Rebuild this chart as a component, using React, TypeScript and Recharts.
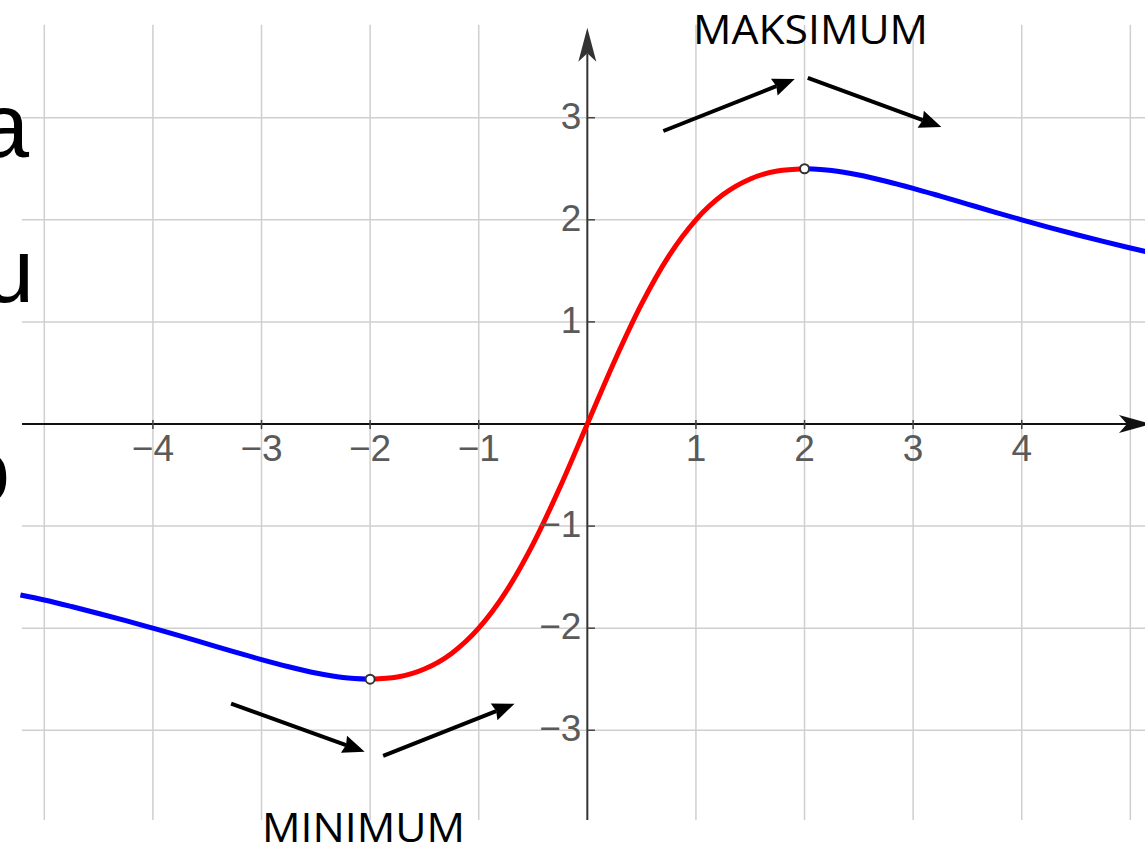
import React from 'react';
import { LineChart, Line, XAxis, YAxis, ReferenceLine, ReferenceDot } from 'recharts';

// curve (x, y)
const leftBlue = [
  { x: -5.22, y: -1.675 }, { x: -5, y: -1.724 }, { x: -4.75, y: -1.788 }, { x: -4.5, y: -1.856 },
  { x: -4.25, y: -1.926 }, { x: -4, y: -2.0 }, { x: -3.75, y: -2.076 }, { x: -3.5, y: -2.154 },
  { x: -3.25, y: -2.232 }, { x: -3, y: -2.308 }, { x: -2.75, y: -2.378 }, { x: -2.5, y: -2.439 },
  { x: -2.25, y: -2.483 }, { x: -2, y: -2.5 },
];
const middleRed = [
  { x: -2, y: -2.5 }, { x: -1.75, y: -2.478 }, { x: -1.5, y: -2.4 }, { x: -1.25, y: -2.247 },
  { x: -1, y: -2.0 }, { x: -0.75, y: -1.644 }, { x: -0.5, y: -1.176 }, { x: -0.25, y: -0.615 },
  { x: 0, y: 0 }, { x: 0.25, y: 0.615 }, { x: 0.5, y: 1.176 }, { x: 0.75, y: 1.644 },
  { x: 1, y: 2.0 }, { x: 1.25, y: 2.247 }, { x: 1.5, y: 2.4 }, { x: 1.75, y: 2.478 }, { x: 2, y: 2.5 },
];
const rightBlue = [
  { x: 2, y: 2.5 }, { x: 2.25, y: 2.483 }, { x: 2.5, y: 2.439 }, { x: 2.75, y: 2.378 },
  { x: 3, y: 2.308 }, { x: 3.25, y: 2.232 }, { x: 3.5, y: 2.154 }, { x: 3.75, y: 2.076 },
  { x: 4, y: 2.0 }, { x: 4.25, y: 1.926 }, { x: 4.5, y: 1.856 }, { x: 4.75, y: 1.788 },
  { x: 5, y: 1.724 }, { x: 5.2, y: 1.675 },
];

const xTicks = [-4, -3, -2, -1, 1, 2, 3, 4];
const yTicks = [3, 2, 1, -1, -2, -3];
const xGrid = [-5, -4, -3, -2, -1, 1, 2, 3, 4, 5];
const yGrid = [-3, -2, -1, 1, 2, 3];

// annotation arrows: [x1, y1, x2 (tip), y2 (tip)]
const arrows = [
  [0.7, 2.87, 1.91, 3.38],
  [2.03, 3.39, 3.26, 2.91],
  [-3.28, -2.74, -2.05, -3.21],
  [-1.88, -3.25, -0.67, -2.74],
];

const X_DOMAIN = [-5.408, 5.135];
const Y_DOMAIN = [-4.114, 4.153];

const num = (v: number) => (v < 0 ? '\u2212' + Math.abs(v) : String(v));

const arrowShape = (len: number, half: number, sw: number, color: string, notch = 0.2) => (p: any) => {
  const { x1, y1, x2, y2 } = p;
  const dx = x2 - x1;
  const dy = y2 - y1;
  const d = Math.sqrt(dx * dx + dy * dy) || 1;
  const ux = dx / d;
  const uy = dy / d;
  const bx = x2 - ux * len;
  const by = y2 - uy * len;
  const nx = bx + ux * len * notch;
  const ny = by + uy * len * notch;
  const pts = [
    [x2, y2],
    [bx - uy * half, by + ux * half],
    [nx, ny],
    [bx + uy * half, by - ux * half],
  ].map((q) => q.join(',')).join(' ');
  return (
    <g>
      <line x1={x1} y1={y1} x2={nx} y2={ny} stroke={color} strokeWidth={sw} />
      <polygon points={pts} fill={color} />
    </g>
  );
};

const tickText = (text: string, dx: number, dy: number, anchor: string) => (p: any) => (
  <text
    x={p.cx + dx}
    y={p.cy + dy}
    textAnchor={anchor}
    fontFamily="'Liberation Sans', Arial, sans-serif"
    fontSize={37}
    fill="#5a5a5a"
  >
    {text}
  </text>
);

// open circles at both ends of the red piece (the extremes)
const endDot = (p: any) => {
  const last = middleRed.length - 1;
  if (p.index !== 0 && p.index !== last) return <g key={'d' + p.index} />;
  return <circle key={'d' + p.index} cx={p.cx} cy={p.cy} r={4.5} fill="#fff" stroke="#333" strokeWidth={2} />;
};

export default function App() {
  return (
    <div style={{ position: 'fixed', left: 0, top: 0, width: 1145, height: 844, background: '#fff', overflow: 'hidden' }}>
      <LineChart width={1145} height={844} margin={{ top: 0, right: 0, bottom: 0, left: 0 }}>
        <XAxis type="number" dataKey="x" domain={X_DOMAIN} allowDataOverflow hide />
        <YAxis type="number" dataKey="y" domain={Y_DOMAIN} allowDataOverflow hide />

        {xGrid.map((g) => (
          <ReferenceLine key={'vx' + g} segment={[{ x: g, y: -3.88 }, { x: g, y: 3.91 }]} stroke="#cfcfcf" strokeWidth={1.5} ifOverflow="visible" />
        ))}
        {yGrid.map((g) => (
          <ReferenceLine key={'hy' + g} segment={[{ x: -5.205, y: g }, { x: 5.2, y: g }]} stroke="#cfcfcf" strokeWidth={1.5} ifOverflow="visible" />
        ))}

        <ReferenceLine segment={[{ x: -5.205, y: 0 }, { x: 5.19, y: 0 }]} ifOverflow="visible" shape={arrowShape(32, 9, 2, '#111', 0.25)} />
        <ReferenceLine segment={[{ x: 0, y: -3.88 }, { x: 0, y: 3.88 }]} ifOverflow="visible" shape={arrowShape(34, 9, 2, '#333', 0.25)} />

        {xTicks.map((t) => (
          <ReferenceLine key={'tx' + t} segment={[{ x: t, y: 0.04 }, { x: t, y: -0.05 }]} stroke="#444" strokeWidth={1.5} ifOverflow="visible" />
        ))}
        {yTicks.map((t) => (
          <ReferenceLine key={'ty' + t} segment={[{ x: 0, y: t }, { x: 0.07, y: t }]} stroke="#444" strokeWidth={1.5} ifOverflow="visible" />
        ))}

        {xTicks.map((t) => (
          <ReferenceDot key={'lx' + t} x={t} y={0} r={0} ifOverflow="visible" shape={tickText(num(t), 0, 37, 'middle')} />
        ))}
        {yTicks.map((t) => (
          <ReferenceDot key={'ly' + t} x={0} y={t} r={0} ifOverflow="visible" shape={tickText(num(t), -6, 11, 'end')} />
        ))}

        {arrows.map((a, i) => (
          <ReferenceLine key={'a' + i} segment={[{ x: a[0], y: a[1] }, { x: a[2], y: a[3] }]} ifOverflow="visible" shape={arrowShape(22, 9, 4, '#000', 0.1)} />
        ))}

        <Line data={leftBlue} dataKey="y" type="monotone" stroke="#0000ff" strokeWidth={5} dot={false} activeDot={false} isAnimationActive={false} />
        <Line data={rightBlue} dataKey="y" type="monotone" stroke="#0000ff" strokeWidth={5} dot={false} activeDot={false} isAnimationActive={false} />
        <Line data={middleRed} dataKey="y" type="monotone" stroke="#ff0000" strokeWidth={5} dot={endDot} activeDot={false} isAnimationActive={false} />
      </LineChart>

      <svg width={1145} height={844} style={{ position: 'absolute', left: 0, top: 0, pointerEvents: 'none' }}>
        <g fontFamily="'Liberation Sans', Arial, sans-serif" fontSize={90} fill="#000">
          <text x={29} y={157} textAnchor="end">a</text>
          <text x={34} y={302} textAnchor="end">u</text>
          <text x={10} y={502} textAnchor="end">o</text>
        </g>
        <g fontFamily="'Open Sans', 'Noto Sans', sans-serif" fontSize={41} fill="#000">
          <text x={693} y={44} textLength={235} lengthAdjust="spacingAndGlyphs">MAKSIMUM</text>
          <text x={262} y={842} textLength={203} lengthAdjust="spacingAndGlyphs">MINIMUM</text>
        </g>
      </svg>
    </div>
  );
}
